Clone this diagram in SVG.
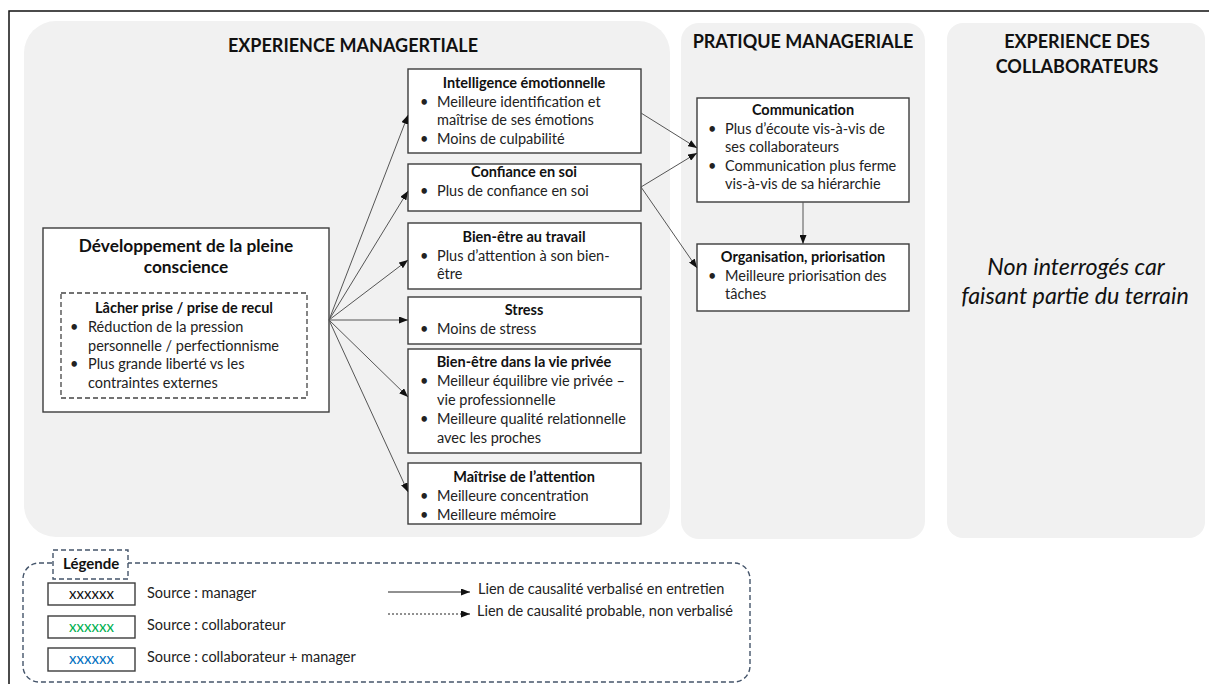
<svg xmlns="http://www.w3.org/2000/svg" width="1209" height="684" viewBox="0 0 1209 684">
  <style>
    text { font-family: Lato, "Open Sans", "Liberation Sans", sans-serif; fill: #111; }
    .panel { fill: #f1f1f1; }
    .head { font-size: 18px; font-weight: bold; text-anchor: middle; }
    .box { fill: #fff; stroke: #3c3c3c; stroke-width: 1.4; }
    .ttl { font-size: 14.5px; font-weight: bold; text-anchor: middle; }
    .txt { font-size: 14.5px; fill: #222; }
    .big { font-size: 17.3px; font-weight: bold; text-anchor: middle; }
    .note { font-size: 23.3px; font-style: italic; text-anchor: middle; }
    .dash { fill: none; stroke: #444; stroke-width: 1.3; stroke-dasharray: 5 3; }
    .link { stroke: #555; stroke-width: 1; fill: none; marker-end: url(#arr); }
    .leg { fill: none; stroke: #44546a; stroke-width: 1.4; stroke-dasharray: 5 3; }
    .lt { font-size: 14.5px; fill: #222; }
    .xx { font-size: 15px; text-anchor: middle; }
  </style>
  <defs>
    <marker id="arr" markerUnits="userSpaceOnUse" markerWidth="9" markerHeight="7" refX="9" refY="3.5" orient="auto">
      <path d="M0,0 L9,3.5 L0,7 z" fill="#111"/>
    </marker>
  </defs>

  <rect width="1209" height="684" fill="#fff"/>
  <!-- frame -->
  <path d="M9,684 V11 H1209" fill="none" stroke="#111" stroke-width="1.5"/>

  <!-- column backgrounds -->
  <g id="col-experience-managertiale">
    <rect class="panel" x="24" y="21" width="646" height="516" rx="32"/>
    <text class="head" x="353" y="52">EXPERIENCE MANAGERTIALE</text>
  </g>
  <g id="col-pratique">
    <rect class="panel" x="681" y="23" width="244" height="516" rx="18"/>
    <text class="head" x="803" y="48">PRATIQUE MANAGERIALE</text>
  </g>
  <g id="col-collaborateurs">
    <rect class="panel" x="947" y="23" width="258" height="515" rx="16"/>
    <text class="head" x="1077" y="48">EXPERIENCE DES</text>
    <text class="head" x="1077" y="73">COLLABORATEURS</text>
    <text class="note" x="1076" y="275">Non interrogés car</text>
    <text class="note" x="1075" y="304">faisant partie du terrain</text>
  </g>

  <!-- source node -->
  <g id="n-pleine-conscience">
    <rect class="box" x="43" y="228" width="286" height="184"/>
    <text class="big" x="186" y="252">Développement de la pleine</text>
    <text class="big" x="186" y="273">conscience</text>
    <rect class="dash" x="61" y="293" width="246" height="105"/>
    <text class="ttl" x="184" y="313">Lâcher prise / prise de recul</text>
    <text class="txt" x="70" y="332">•</text>
    <text class="txt" x="88" y="332">Réduction de la pression</text>
    <text class="txt" x="88" y="351">personnelle / perfectionnisme</text>
    <text class="txt" x="70" y="369">•</text>
    <text class="txt" x="88" y="369">Plus grande liberté vs les</text>
    <text class="txt" x="88" y="388">contraintes externes</text>
  </g>

  <g id="n-intelligence">
    <rect class="box" x="408" y="69" width="233" height="84"/>
    <text class="ttl" x="524" y="88">Intelligence émotionnelle</text>
    <text class="txt" x="420" y="107">•</text>
    <text class="txt" x="437" y="107">Meilleure identification et</text>
    <text class="txt" x="437" y="125">maîtrise de ses émotions</text>
    <text class="txt" x="420" y="144">•</text>
    <text class="txt" x="437" y="144">Moins de culpabilité</text>
  </g>

  <g id="n-confiance">
    <rect class="box" x="408" y="164" width="233" height="47"/>
    <text class="ttl" x="524" y="177">Confiance en soi</text>
    <text class="txt" x="420" y="196">•</text>
    <text class="txt" x="437" y="196">Plus de confiance en soi</text>
  </g>

  <g id="n-bienetre-travail">
    <rect class="box" x="408" y="223" width="233" height="66"/>
    <text class="ttl" x="524" y="242">Bien-être au travail</text>
    <text class="txt" x="420" y="261">•</text>
    <text class="txt" x="437" y="261">Plus d’attention à son bien-</text>
    <text class="txt" x="437" y="279">être</text>
  </g>

  <g id="n-stress">
    <rect class="box" x="408" y="297" width="233" height="47"/>
    <text class="ttl" x="524" y="315">Stress</text>
    <text class="txt" x="420" y="334">•</text>
    <text class="txt" x="437" y="334">Moins de stress</text>
  </g>

  <g id="n-bienetre-prive">
    <rect class="box" x="408" y="349" width="233" height="104"/>
    <text class="ttl" x="524" y="367">Bien-être dans la vie privée</text>
    <text class="txt" x="420" y="386">•</text>
    <text class="txt" x="437" y="386">Meilleur équilibre vie privée –</text>
    <text class="txt" x="437" y="405">vie professionnelle</text>
    <text class="txt" x="420" y="424">•</text>
    <text class="txt" x="437" y="424">Meilleure qualité relationnelle</text>
    <text class="txt" x="437" y="443">avec les proches</text>
  </g>

  <g id="n-attention">
    <rect class="box" x="408" y="463" width="233" height="61"/>
    <text class="ttl" x="524" y="482">Maîtrise de l’attention</text>
    <text class="txt" x="420" y="501">•</text>
    <text class="txt" x="437" y="501">Meilleure concentration</text>
    <text class="txt" x="420" y="520">•</text>
    <text class="txt" x="437" y="520">Meilleure mémoire</text>
  </g>

  <g id="n-communication">
    <rect class="box" x="697" y="98" width="212" height="104"/>
    <text class="ttl" x="803" y="115">Communication</text>
    <text class="txt" x="708" y="134">•</text>
    <text class="txt" x="725" y="134">Plus d’écoute vis-à-vis de</text>
    <text class="txt" x="725" y="152">ses collaborateurs</text>
    <text class="txt" x="708" y="171">•</text>
    <text class="txt" x="725" y="171">Communication plus ferme</text>
    <text class="txt" x="725" y="189">vis-à-vis de sa hiérarchie</text>
  </g>

  <g id="n-organisation">
    <rect class="box" x="697" y="244" width="212" height="67"/>
    <text class="ttl" x="803" y="262">Organisation, priorisation</text>
    <text class="txt" x="708" y="281">•</text>
    <text class="txt" x="725" y="281">Meilleure priorisation des</text>
    <text class="txt" x="725" y="299">tâches</text>
  </g>

  <!-- causal links -->
  <g id="connectors">
    <line class="link" x1="329" y1="320" x2="408" y2="115"/>
    <line class="link" x1="329" y1="320" x2="408" y2="191"/>
    <line class="link" x1="329" y1="320" x2="408" y2="260"/>
    <line class="link" x1="329" y1="320" x2="408" y2="320"/>
    <line class="link" x1="329" y1="320" x2="408" y2="397"/>
    <line class="link" x1="329" y1="320" x2="408" y2="492"/>
    <line class="link" x1="641" y1="113" x2="697" y2="148"/>
    <line class="link" x1="641" y1="187" x2="697" y2="153"/>
    <line class="link" x1="641" y1="187" x2="697" y2="268"/>
    <line class="link" x1="803" y1="202" x2="803" y2="244"/>
  </g>

  <!-- legend -->
  <g id="legend">
    <rect class="leg" x="23" y="563" width="727" height="119" rx="16"/>
    <rect x="53" y="550" width="75" height="29" fill="#fff"/>
    <rect class="leg" x="53" y="550" width="75" height="29"/>
    <text x="63" y="569" style="font-size:15px;font-weight:bold">Légende</text>

    <rect class="box" x="48" y="583" width="87" height="22"/>
    <text class="xx" x="91.5" y="599">xxxxxx</text>
    <text class="lt" x="147" y="598">Source : manager</text>

    <rect class="box" x="48" y="616" width="87" height="22"/>
    <text class="xx" x="91.5" y="632" style="fill:#00b050">xxxxxx</text>
    <text class="lt" x="147" y="630">Source : collaborateur</text>

    <rect class="box" x="48" y="648" width="87" height="23"/>
    <text class="xx" x="91.5" y="664" style="fill:#0070c0">xxxxxx</text>
    <text class="lt" x="147" y="662">Source : collaborateur + manager</text>

    <line x1="388" y1="592" x2="470" y2="592" stroke="#222" stroke-width="1" marker-end="url(#arr)"/>
    <text class="lt" x="478" y="594">Lien de causalité verbalisé en entretien</text>
    <line x1="388" y1="614" x2="470" y2="614" stroke="#222" stroke-width="1" stroke-dasharray="2 2" marker-end="url(#arr)"/>
    <text class="lt" x="477" y="616">Lien de causalité probable, non verbalisé</text>
  </g>
</svg>
